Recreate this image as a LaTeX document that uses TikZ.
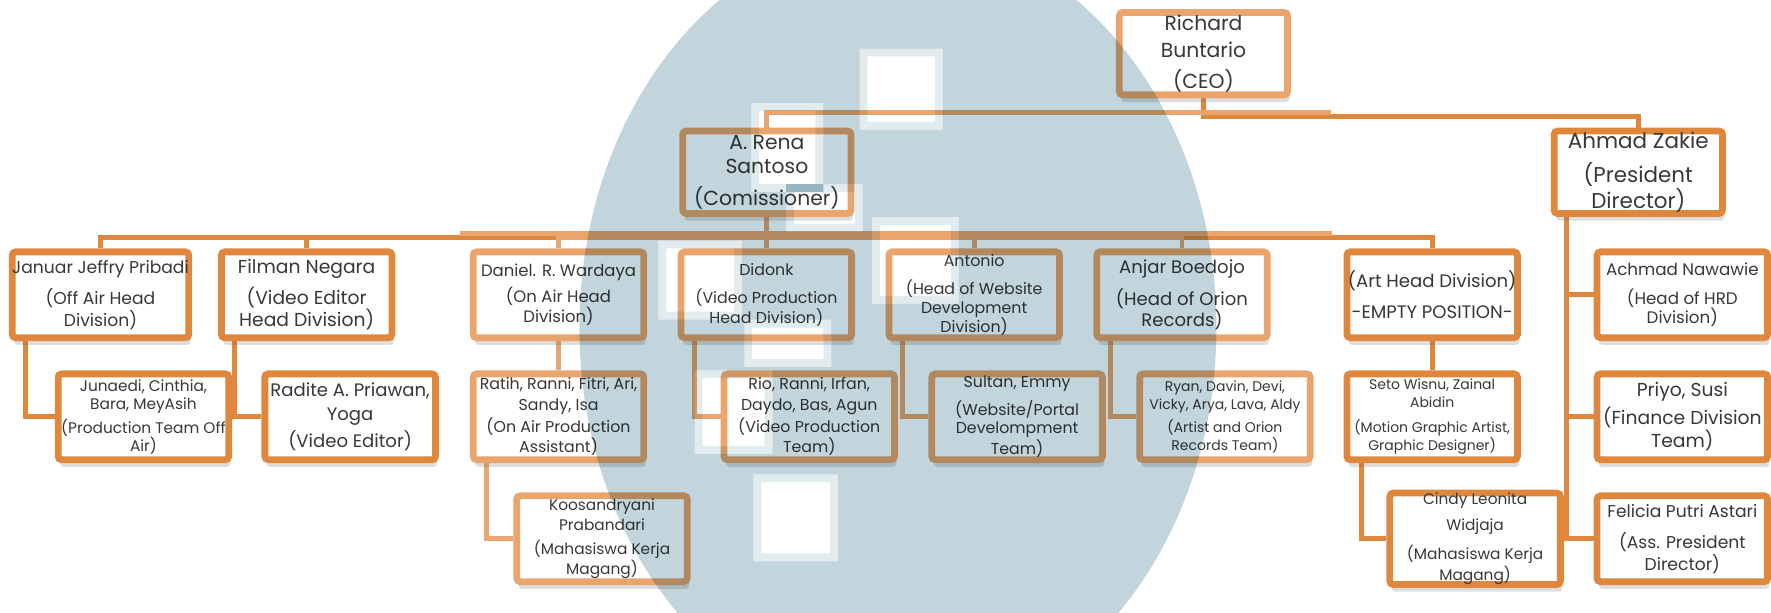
\documentclass[tikz,border=0pt]{standalone}
\usepackage{fontspec}
\setmainfont{Poppins}
\usetikzlibrary{shadows}
\pgfdeclarelayer{bg}
\pgfsetlayers{bg,main}
\definecolor{ocD}{HTML}{E0873E}
\definecolor{ocL}{HTML}{EAA56E}
\definecolor{wm}{HTML}{C3D5DC}
\definecolor{wmL}{HTML}{E2ECEF}
\definecolor{txt}{HTML}{383838}
\newcommand\setfs[2]{\fontsize{#1}{#2}\selectfont}
\newcommand\halo[4]{%
  \fill[wmL, even odd rule] (#1-7,#2-7) rectangle (#3+7,#4+7) (#1,#2) rectangle (#3,#4);}
\tikzset{
  box/.style={draw=ocD, fill=white, line width=3pt, rounded corners=1.5pt,
    inner sep=0pt, align=center, text=txt, minimum width=75.5pt, minimum height=38pt,
    drop shadow={opacity=0.22, fill=black!60, shadow xshift=0.8pt, shadow yshift=-3.2pt}},
  boxL/.style={box, draw=ocL},
  bigbox/.style={minimum width=74.5pt, minimum height=36.5pt},
  cD/.style={draw=ocD, line width=2.2pt},
  cL/.style={draw=ocL, line width=2.2pt},
}
\begin{document}
\begin{tikzpicture}[x=0.5pt, y=-0.5pt]
\useasboundingbox (0,0) rectangle (1568,542);
\clip (0,0) rectangle (1568,542);
% level 0/1
\node[boxL, bigbox, font=\setfs{9}{12}] (ceo) at (1065.5,47.5) {Richard\\Buntario\\[2pt](CEO)};
\node[boxL, bigbox, font=\setfs{9}{10.5}] (rena) at (679,152.5) {A. Rena\\Santoso\\[3.5pt](Comissioner)};
\node[box, bigbox, font=\setfs{9.5}{10}] (ahmad) at (1450.5,152.5) {Ahmad Zakie\\[5pt](President\\Director)};
% level 2
\node[box, font=\setfs{7.6}{8.5}] (januar) at (89,261) {Januar Jeffry Pribadi\\[4pt](Off Air Head\\Division)};
\node[box, font=\setfs{8.3}{10}] (filman) at (271.5,261) {Filman Negara\\[3.5pt](Video Editor\\Head Division)};
\node[boxL, font=\setfs{7.3}{9}] (daniel) at (494.5,261) {Daniel. R. Wardaya\\[2.5pt](On Air Head\\Division)};
\node[boxL, font=\setfs{7}{9}] (didonk) at (678.5,261) {Didonk\\[3.5pt](Video Production\\Head Division)};
\node[boxL, font=\setfs{7}{8.5}] (antonio) at (862.5,261) {Antonio\\[4pt](Head of Website\\Development\\Division)};
\node[boxL, font=\setfs{8}{9}] (anjar) at (1046.5,261) {Anjar Boedojo\\[3.5pt](Head of Orion\\Records)};
\node[box, font=\setfs{8}{8.5}] (art) at (1268,261) {(Art Head Division)\\[5pt]-EMPTY POSITION-};
\node[box, font=\setfs{7.4}{8.5}] (achmad) at (1489.5,261) {Achmad Nawawie\\[4pt](Head of HRD\\Division)};
% level 3
\node[box, font=\setfs{6.8}{8}] (junaedi) at (127,369) {Junaedi, Cinthia,\\Bara, MeyAsih\\[1.5pt](Production Team Off\\Air)};
\node[box, font=\setfs{8}{11}] (radite) at (310,369) {Radite A. Priawan,\\Yoga\\[1pt](Video Editor)};
\node[boxL, font=\setfs{7}{9}] (ratih) at (494.5,369) {Ratih, Ranni, Fitri, Ari,\\Sandy, Isa\\[1pt](On Air Production\\Assistant)};
\node[boxL, font=\setfs{7}{9}] (rio) at (716.5,369) {Rio, Ranni, Irfan,\\Daydo, Bas, Agun\\[1pt](Video Production\\Team)};
\node[boxL, font=\setfs{7}{8}] (sultan) at (900.5,369) {Sultan, Emmy\\[3pt](Website/Portal\\Develompment\\Team)};
\node[boxL, font=\setfs{6.2}{8}] (ryan) at (1084.5,369) {Ryan, Davin, Devi,\\Vicky, Arya, Lava, Aldy\\[2pt](Artist and Orion\\Records Team)};
\node[box, font=\setfs{6.2}{8}] (seto) at (1268,369) {Seto Wisnu, Zainal\\Abidin\\[3pt](Motion Graphic Artist,\\Graphic Designer)};
\node[box, font=\setfs{8.3}{10}] (priyo) at (1489.5,369) {Priyo, Susi\\[2.5pt](Finance Division\\Team)};
% level 4
\node[boxL, font=\setfs{6.8}{8.5}] (koos) at (533,477) {Koosandryani\\Prabandari\\[2.5pt](Mahasiswa Kerja\\Magang)};
\node[box, font=\setfs{6.8}{7.8}] (cindy) at (1306,477) {Cindy Leonita\\[3.7pt]Widjaja\\[3.7pt](Mahasiswa Kerja\\Magang)};
\node[box, font=\setfs{7.6}{9.5}] (felicia) at (1489.5,477) {Felicia Putri Astari\\[4.5pt](Ass. President\\Director)};
% bus colour change points
\coordinate (topR) at (1178,100);
\coordinate (busL) at (407,207);
\coordinate (busR) at (1179,207);
% ---- connectors behind the boxes
\begin{pgfonlayer}{bg}
\draw[cD] (ceo.south) -- ++(0,16) -| (ahmad.north);
\draw[cL] (rena.north) |- (topR);
\draw[cD] (rena.south) -- ++(0,18) -| (januar.north);
\draw[cD] (rena.south) -- ++(0,18) -| (filman.north);
\draw[cD] (rena.south) -- ++(0,18) -| (art.north);
\draw[cL] (rena.south) -- ++(0,18) -| (anjar.north);
\draw[cL] (rena.south) -- ++(0,18) -| (antonio.north);
\draw[cL] (rena.south) -- ++(0,18) -| (daniel.north);
\draw[cL] (rena.south) -- ++(0,18) -| (didonk.north);
\draw[cL] (busL) -- (busR);
\draw[cD] ([xshift=7.5pt]januar.south west) |- (junaedi.west);
\draw[cD] ([xshift=7.5pt]filman.south west) |- (radite.west);
\draw[cL] (daniel.south) -- (ratih.north);
\draw[cL] ([xshift=7.5pt]didonk.south west) |- (rio.west);
\draw[cL] ([xshift=7.5pt]antonio.south west) |- (sultan.west);
\draw[cL] ([xshift=7.5pt]anjar.south west) |- (ryan.west);
\draw[cD] (art.south) -- (seto.north);
\draw[cL] ([xshift=7.5pt]ratih.south west) |- (koos.west);
\draw[cD] ([xshift=8pt]seto.south west) |- (cindy.west);
\draw[cD] ([xshift=7pt]ahmad.south west) |- (felicia.west);
\draw[cD] ([xshift=7pt]ahmad.south west) |- (achmad.west);
\draw[cD] ([xshift=7pt]ahmad.south west) |- (priyo.west);
\end{pgfonlayer}
% ---- watermark (multiplied over the chart)
\begin{scope}[blend mode=multiply]
\fill[wm, even odd rule] (795,290) ellipse [x radius=282, y radius=350]
  (761,43) rectangle (835,115)
  (665,91) rectangle (729,170)
  (696,163) rectangle (764,205)
  (583,213) rectangle (657,283)
  (772,192) rectangle (849,269)
  (659,283) rectangle (736,325)
  (615,328) rectangle (684,402)
  (667,420) rectangle (742,497);
\halo{768}{50}{828}{108}
\halo{672}{98}{722}{163}
\halo{703}{170}{757}{198}
\halo{590}{220}{650}{276}
\halo{779}{199}{842}{262}
\halo{666}{290}{729}{318}
\halo{622}{335}{677}{395}
\halo{674}{427}{735}{490}
\end{scope}
\end{tikzpicture}
\end{document}
